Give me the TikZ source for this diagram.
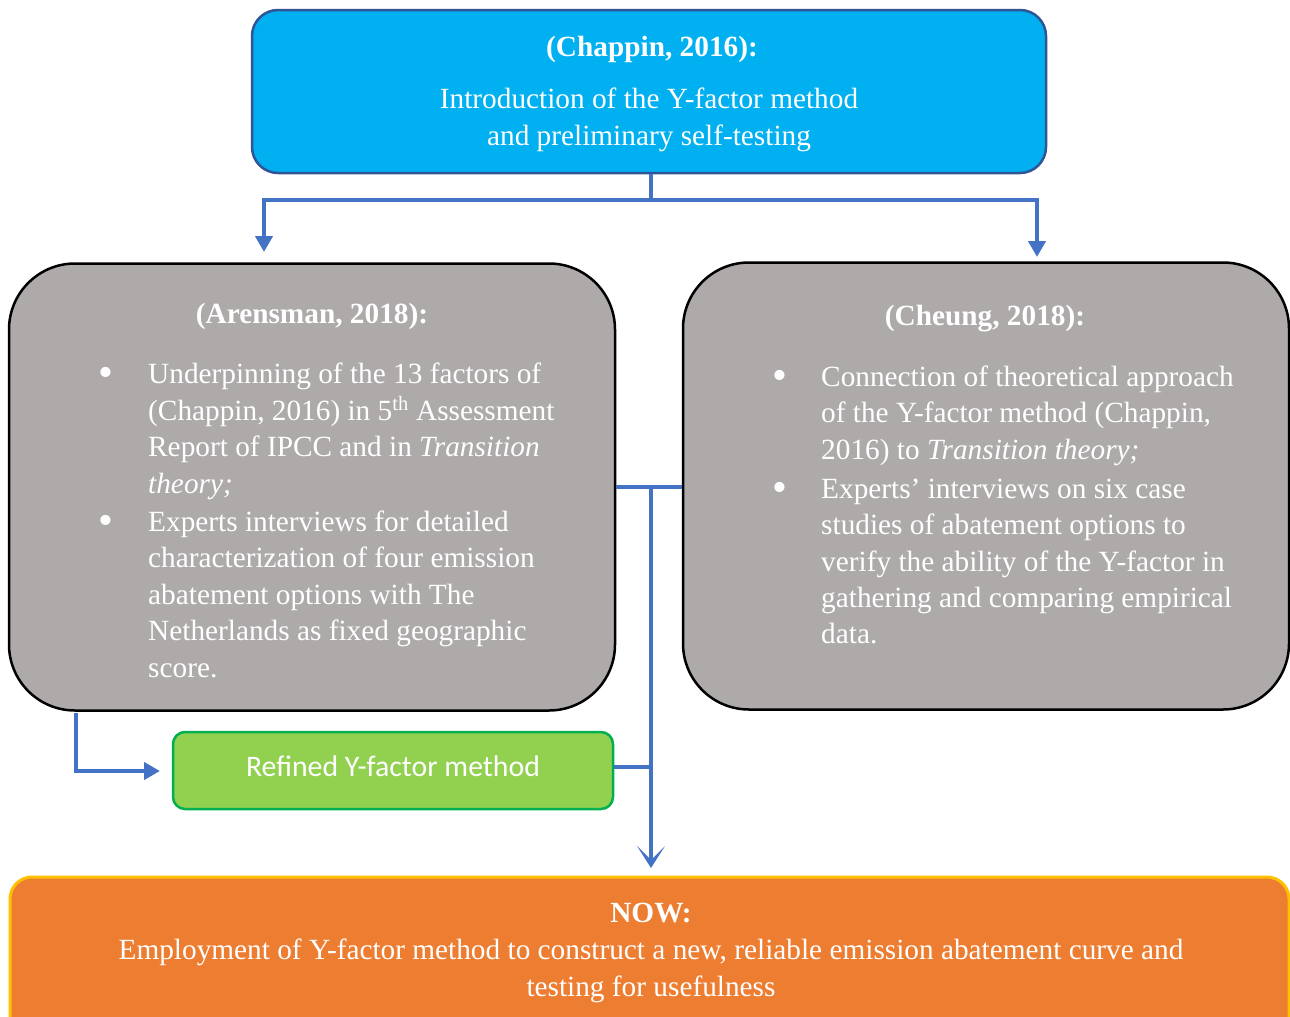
\documentclass[tikz,border=0pt]{standalone}
\usepackage{fontspec}
\setmainfont{Liberation Serif}
\newfontfamily\calib{Carlito}
\usetikzlibrary{arrows.meta}
\definecolor{topblue}{HTML}{00B0F0}
\definecolor{topborder}{HTML}{2F5597}
\definecolor{boxgray}{HTML}{AEAAAA}
\definecolor{refgreen}{HTML}{92D050}
\definecolor{refgreenb}{HTML}{00B050}
\definecolor{noworange}{HTML}{ED7D31}
\definecolor{nowborder}{HTML}{FFC000}
\definecolor{conn}{HTML}{4472C4}
\begin{document}
\begin{tikzpicture}[x=1pt,y=-1pt,
  boxbase/.style={rectangle,inner sep=0pt,line width=2.5pt},
  topbox/.style={boxbase,fill=topblue,draw=topborder,rounded corners=26pt,minimum width=794pt,minimum height=163pt},
  graybox/.style={boxbase,fill=boxgray,draw=black,rounded corners=66pt,minimum width=606pt,minimum height=447pt},
  greenbox/.style={boxbase,fill=refgreen,draw=refgreenb,rounded corners=12pt,minimum width=440pt,minimum height=77pt},
  nowbox/.style={boxbase,fill=noworange,draw=nowborder,line width=3pt,rounded corners=22pt,minimum width=1279pt,minimum height=163pt},
  txt/.style={text=white,inner sep=0pt,font=\fontsize{29.3}{34}\selectfont},
  ctr/.style={txt,anchor=base},
  lft/.style={txt,anchor=base west},
  hd/.style={txt,anchor=base,font=\fontsize{29.3}{34}\selectfont\bfseries},
  bul/.style={txt,anchor=base},
  wire/.style={draw=conn,line width=4pt},
  arr/.style={wire,-{Triangle[length=16pt,width=17pt]}},
  varr/.style={wire,-{Stealth[length=22pt,width=28pt,inset=14pt]}}
]
\useasboundingbox (0,0) rectangle (1290,1017);
\clip (0,0) rectangle (1290,1017);

% boxes
\node[topbox] (T) at (649,91.5) {};
\node[graybox] (L) at (312,487) {};
\node[graybox] (R) at (986,486) {};
\node[greenbox] (G) at (393,770.5) {};
\node[nowbox] (O) at (649.5,958.5) {};

% top text
\node[hd] (t1) at (652,56) {(Chappin, 2016):};
\node[ctr] (t2) at (649,108) {Introduction of the Y-factor method};
\node[ctr] (t3) at (649,145) {and preliminary self-testing};

% left text
\node[hd] (lh) at (312,323) {(Arensman, 2018):};
\node[bul] (lb1) at (106,386) {\scalebox{1.45}{\textbullet}};
\node[bul] (lb2) at (106,534) {\scalebox{1.45}{\textbullet}};
\node[lft] (l1) at (148,383) {Underpinning of the 13 factors of};
\node[lft] (l2) at (148,420) {(Chappin, 2016) in 5\textsuperscript{th} Assessment};
\node[lft] (l3) at (148,456) {Report of IPCC and in \textit{Transition}};
\node[lft] (l4) at (148,493) {\textit{theory;}};
\node[lft] (l5) at (148,531) {Experts interviews for detailed};
\node[lft] (l6) at (148,567) {characterization of four emission};
\node[lft] (l7) at (148,604) {abatement options with The};
\node[lft] (l8) at (148,640) {Netherlands as fixed geographic};
\node[lft] (l9) at (148,677) {score.};

% right text
\node[hd] (rh) at (985,325) {(Cheung, 2018):};
\node[bul] (rb1) at (780,389) {\scalebox{1.45}{\textbullet}};
\node[bul] (rb2) at (780,501) {\scalebox{1.45}{\textbullet}};
\node[lft] (r1) at (821,386) {Connection of theoretical approach};
\node[lft] (r2) at (821,422) {of the Y-factor method (Chappin,};
\node[lft] (r3) at (821,459) {2016) to \textit{Transition theory;}};
\node[lft] (r4) at (821,498) {Experts’ interviews on six case};
\node[lft] (r5) at (821,534) {studies of abatement options to};
\node[lft] (r6) at (821,571) {verify the ability of the Y-factor in};
\node[lft] (r7) at (821,607) {gathering and comparing empirical};
\node[lft] (r8) at (821,643) {data.};

% green text
\node[ctr,font=\calib\fontsize{29.8}{34}\selectfont] (g1) at (393,776) {Refined Y-factor method};

% bottom text
\node[hd] (n1) at (651,922) {NOW:};
\node[ctr] (n2) at (651,959) {Employment of Y-factor method to construct a new, reliable emission abatement curve and};
\node[ctr] (n3) at (651,996) {testing for usefulness};

% connectors
\coordinate (j1) at (651,200);
\coordinate (aL) at (264,252);
\coordinate (aR) at (1037,257);
\draw[wire] (j1 |- T.south) -- (j1);
\draw[arr] (j1) -| (aL);
\draw[arr] (j1) -| (aR);

\coordinate (jm) at (651,487);
\coordinate (jg) at (651,767);
\coordinate (aN) at (651,868);
\draw[wire] (L.east |- jm) -- (R.west |- jm);
\draw[varr] (jm) -- (aN);
\draw[wire] (G.east |- jg) -- (jg);

\coordinate (ls) at (76,713);
\coordinate (lc) at (76,771);
\coordinate (aG) at (160,771);
\draw[arr] (ls) -- (lc) -- (aG);
\end{tikzpicture}
\end{document}
